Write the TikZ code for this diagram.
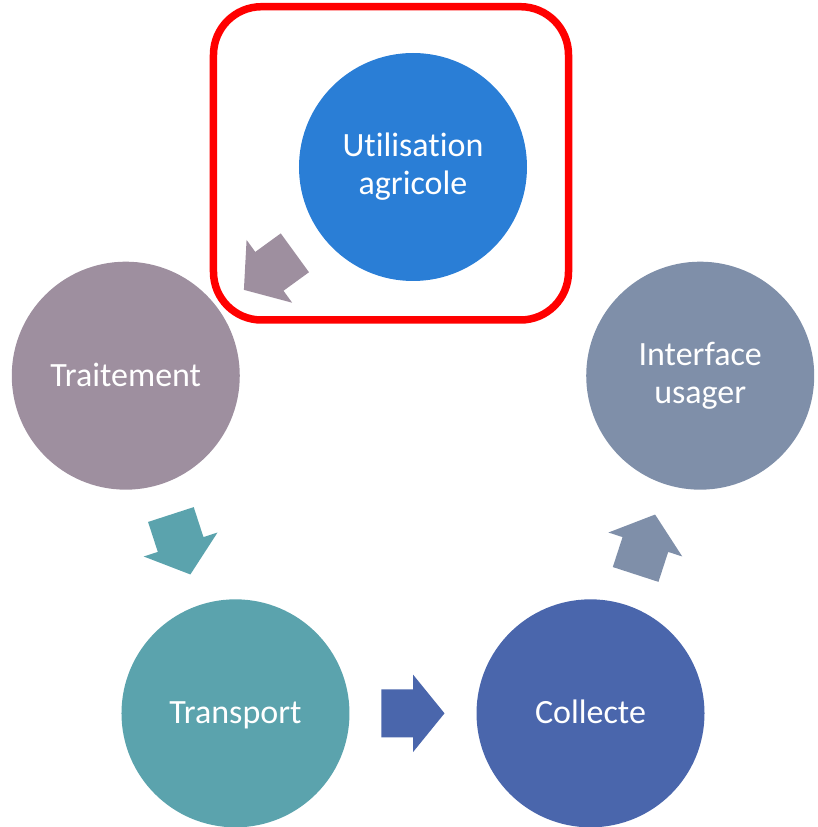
\documentclass[tikz,border=0pt]{standalone}
\usepackage{fontspec}
\setmainfont{Carlito}[Ligatures=NoCommon]
\usetikzlibrary{calc}
\definecolor{cUtil}{HTML}{2A7ED6}
\definecolor{cTrait}{HTML}{9E8F9F}
\definecolor{cTrans}{HTML}{5BA3AD}
\definecolor{cColl}{HTML}{4A66AC}
\definecolor{cInter}{HTML}{7F8FA9}
\definecolor{cFrame}{HTML}{FF0000}
\tikzset{
  stage/.style={circle, minimum size=228pt, inner sep=0pt, fill=#1, text=white,
    font=\fontsize{34}{38}\selectfont, align=center, text height=21pt, text depth=0pt},
  twolines/.style={text height=56pt},
  blockarrow/.pic={\path[pic actions] (-31.5,-24) -- (0,-24) -- (0,-38.8) -- (31.5,0) -- (0,38.8) -- (0,24) -- (-31.5,24) -- cycle;},
  highlight/.style={draw=cFrame, line width=7.5pt, rounded corners=48pt}
}
\begin{document}
\begin{tikzpicture}[x=1pt,y=1pt]
\useasboundingbox (-413,-358) rectangle (404,469);
\node[stage=cUtil, twolines]  (util)  at (90:302)  {Utilisation\\agricole};
\node[stage=cTrait] (trait) at (162:302) {Traitement};
\node[stage=cTrans] (trans) at (234:302) {Transport};
\node[stage=cColl]  (coll)  at (306:302) {Collecte};
\node[stage=cInter, twolines] (inter) at (18:302)  {Interface\\usager};
\pic[rotate=216, fill=cTrait] at ($(util)!0.5!(trait)$) {blockarrow};
\pic[rotate=288, fill=cTrans] at ($(trait)!0.5!(trans)$) {blockarrow};
\pic[rotate=0,   fill=cColl]  at ($(trans)!0.5!(coll)$) {blockarrow};
\pic[rotate=72,  fill=cInter] at ($(coll)!0.5!(inter)$) {blockarrow};
\draw[highlight] (-199.5,149) rectangle (155.5,462.3);
\end{tikzpicture}
\end{document}
